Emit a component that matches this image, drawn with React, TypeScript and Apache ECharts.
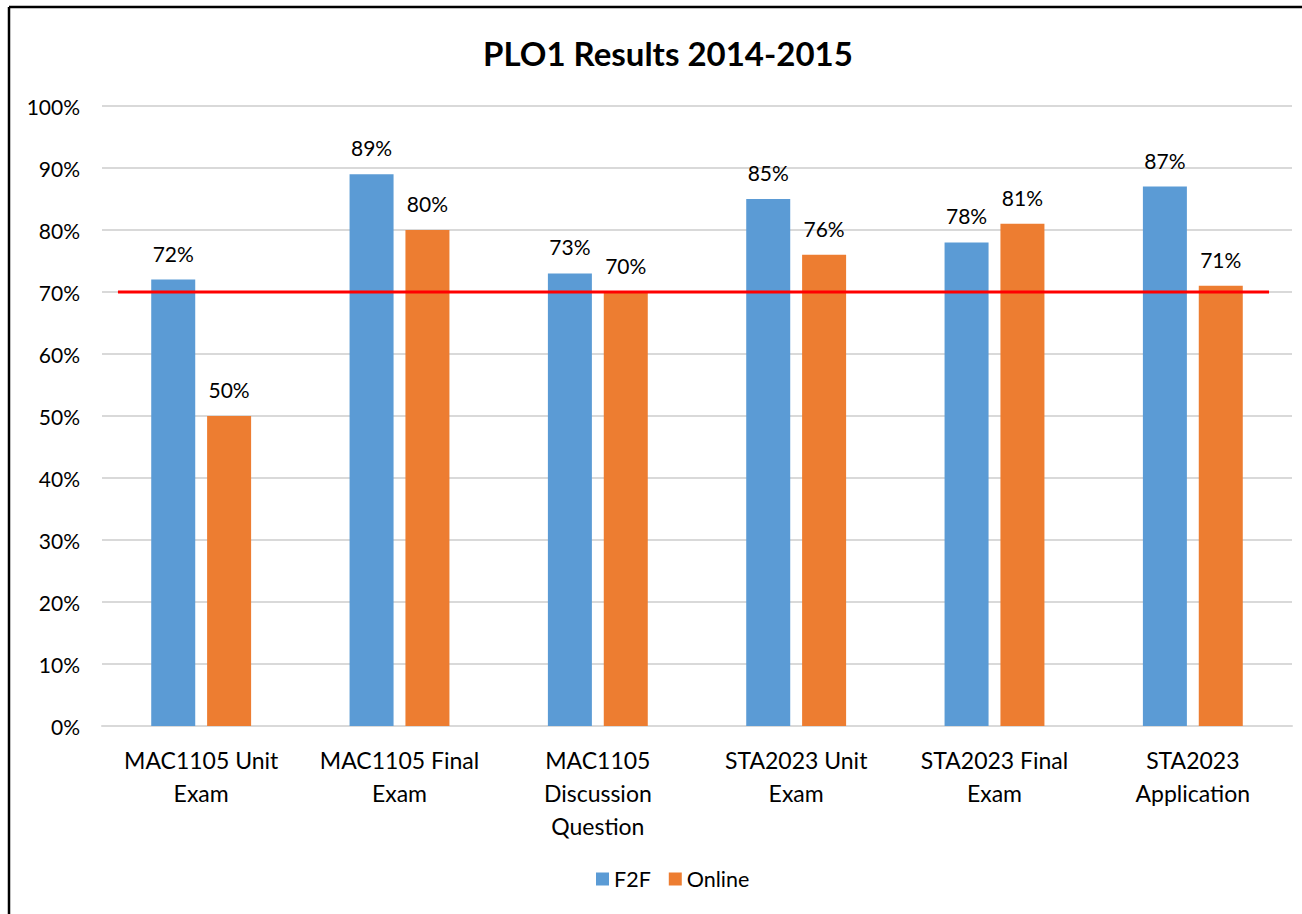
import React, { useEffect, useRef } from "react";
import * as echarts from "echarts";

const categories = [
  "MAC1105 Unit\nExam",
  "MAC1105 Final\nExam",
  "MAC1105\nDiscussion\nQuestion",
  "STA2023 Unit\nExam",
  "STA2023 Final\nExam",
  "STA2023\nApplication",
];
const f2f = [72, 89, 73, 85, 78, 87];
const online = [50, 80, 70, 76, 81, 71];
const threshold = 70;
const thresholdSpan = [0.0134, 0.9807];
const yTicks = [0, 10, 20, 30, 40, 50, 60, 70, 80, 90, 100];

const FONT = "Lato, 'Open Sans', sans-serif";

export default function App() {
  const ref = useRef<HTMLDivElement>(null);
  useEffect(() => {
    if (!ref.current) return;
    const chart = echarts.init(ref.current, null, { renderer: "svg" });
    chart.setOption({
      animation: false,
      backgroundColor: "#ffffff",
      textStyle: { fontFamily: FONT },
      title: {
        text: "PLO1 Results 2014-2015",
        left: 478,
        top: 31,
        textStyle: { fontFamily: FONT, fontSize: 33, fontWeight: "bold", color: "#000" },
      },
      legend: {
        bottom: 19,
        left: 591,
        itemWidth: 13,
        itemHeight: 13,
        itemGap: 18,
        icon: "rect",
        textStyle: { fontFamily: FONT, fontSize: 21.5, color: "#000" },
        data: ["F2F", "Online"],
      },
      grid: { left: 102, right: 10, top: 106, bottom: 188, containLabel: false },
      xAxis: [
        {
          type: "category",
          data: categories,
          axisLine: { lineStyle: { color: "#d9d9d9", width: 2 } },
          axisTick: { show: false },
          axisLabel: {
            fontFamily: FONT,
            fontSize: 23,
            color: "#000",
            lineHeight: 33,
            margin: 17,
            interval: 0,
          },
        },
        {
          type: "value",
          min: 0,
          max: 1,
          show: false,
        },
      ],
      yAxis: {
        type: "value",
        min: 0,
        max: 100,
        interval: 10,
        axisLine: { show: false },
        axisTick: { show: false },
        splitLine: { lineStyle: { color: "#d9d9d9", width: 2 } },
        axisLabel: {
          fontFamily: FONT,
          fontSize: 21,
          color: "#000",
          margin: 22,
          formatter: (v: number) => (yTicks.includes(v) ? v + "%" : ""),
        },
      },
      series: [
        {
          name: "F2F",
          type: "bar",
          data: f2f,
          barWidth: 44,
          barGap: "27%",
          itemStyle: { color: "#5b9bd5" },
          label: {
            show: true,
            position: "top",
            distance: 16,
            formatter: "{c}%",
            fontFamily: FONT,
            fontSize: 21,
            color: "#000",
          },
        },
        {
          name: "Online",
          type: "bar",
          data: online,
          barWidth: 44,
          itemStyle: { color: "#ed7d31" },
          label: {
            show: true,
            position: "top",
            distance: 16,
            formatter: "{c}%",
            fontFamily: FONT,
            fontSize: 21,
            color: "#000",
          },
        },
        {
          name: "Target",
          type: "line",
          xAxisIndex: 1,
          data: thresholdSpan.map((x) => [x, threshold]),
          symbol: "none",
          lineStyle: { color: "#ff0000", width: 3 },
          z: 5,
        },
      ],
      graphic: [
        {
          type: "line",
          shape: { x1: 9, y1: 7, x2: 1302, y2: 7 },
          style: { stroke: "#000", lineWidth: 2.5 },
        },
        {
          type: "line",
          shape: { x1: 9, y1: 7, x2: 9, y2: 914 },
          style: { stroke: "#000", lineWidth: 2.5 },
        },
      ],
    });
    return () => chart.dispose();
  }, []);
  return (
    <div
      ref={ref}
      style={{ position: "absolute", left: 0, top: 0, width: 1302, height: 914 }}
    />
  );
}
